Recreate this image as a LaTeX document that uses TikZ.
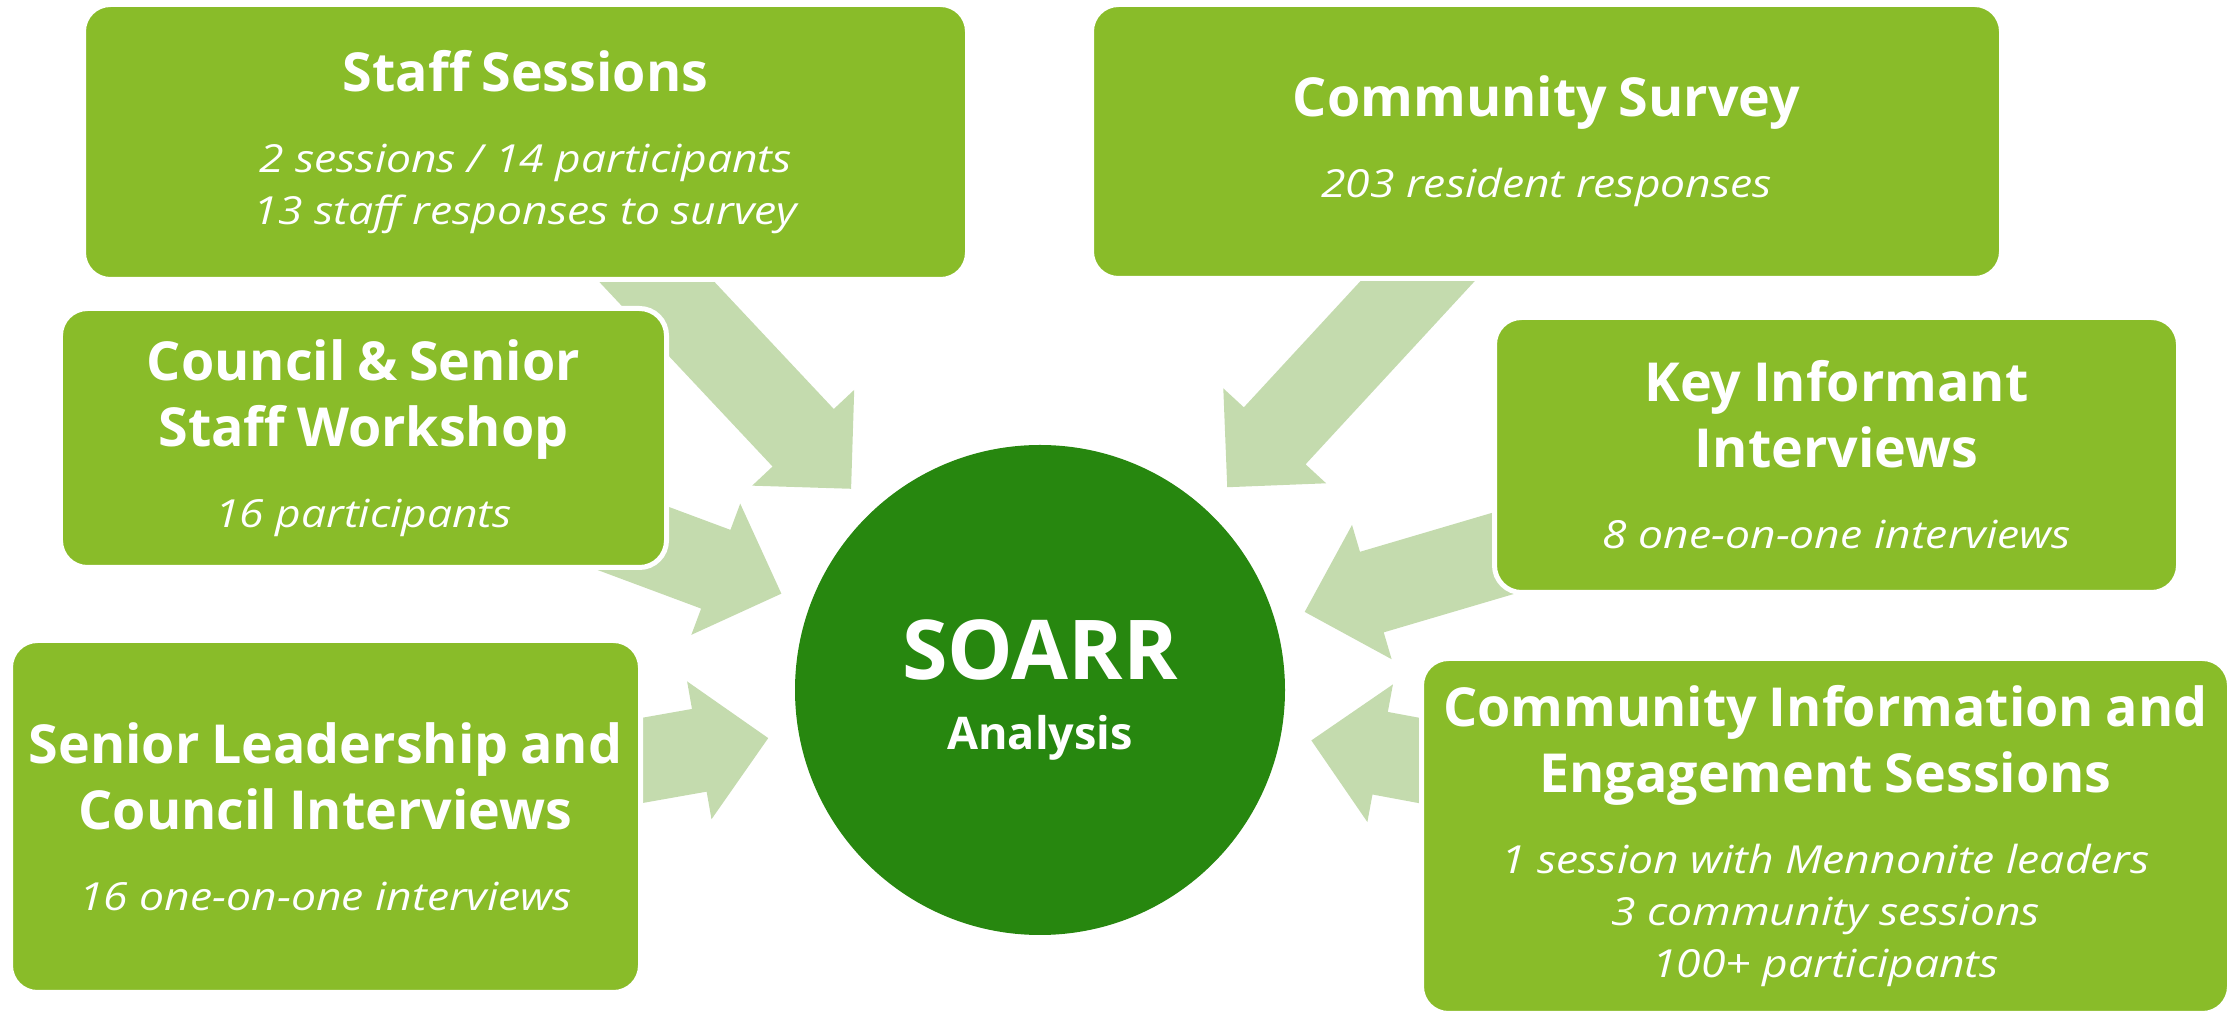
\documentclass[tikz,border=0pt]{standalone}
\usepackage{fontspec}
\setmainfont{Open Sans}
\newfontfamily\notefamily{Open Sans}[FakeStretch=1.15]
\usetikzlibrary{calc,backgrounds}

\definecolor{boxgreen}{HTML}{89BC29}
\definecolor{hubgreen}{HTML}{27870F}
\definecolor{arrowgreen}{HTML}{C4DBAE}

\setlength{\parindent}{0pt}
\newcommand{\titlefont}{\bfseries\fontsize{15.3}{18.8}\selectfont}
\newcommand{\notefont}{\notefamily\itshape\fontsize{11}{14.8}\selectfont}
\newcommand{\srctext}[2]{{\titlefont #1\par}\vspace{8.25pt}{\notefont #2\par}}
% block arrow from a box (#1) to a tip coordinate (#2)
\newcommand{\convarrow}[2]{%
  \path ($(#2)!0.7cm!(#1)$) coordinate (hb);
  \fill[arrowfill] ($(#1)!0.42cm!90:(#2)$) -- ($(hb)!0.42cm!90:(#2)$)
    -- ($(hb)!0.7cm!90:(#2)$) -- (#2) -- ($(hb)!0.7cm!-90:(#2)$)
    -- ($(hb)!0.42cm!-90:(#2)$) -- ($(#1)!0.42cm!-90:(#2)$) -- cycle;}

\begin{document}
\begin{tikzpicture}
	\tikzset{srcbox/.style={rectangle, rounded corners=0.27cm, fill=boxgreen, draw=white, line width=0.05cm, text=white, align=center, inner sep=0pt},
		hub/.style={circle, fill=hubgreen, text=white, minimum size=4.9cm, inner sep=0pt, align=center, text width=4cm},
		arrowfill/.style={fill=arrowgreen}};

	\useasboundingbox (0,0) rectangle (22.39,-10.14);

	\node[hub] (soarr) at (10.40,-6.90) {{\bfseries\fontsize{23.5}{30}\selectfont SOARR\par}{\bfseries\fontsize{12.8}{19.9}\selectfont Analysis\par}};

	\node[srcbox, minimum width=8.84cm, minimum height=2.75cm, text width=8.7cm] (staff) at (5.255,-1.42) {\srctext{Staff Sessions}{2 sessions / 14 participants\\13 staff responses to survey}};
	\node[srcbox, minimum width=9.10cm, minimum height=2.74cm, text width=9cm] (survey) at (15.465,-1.415) {\srctext{Community Survey}{203 resident responses}};
	\node[srcbox, minimum width=6.06cm, minimum height=2.59cm, text width=6cm] (council) at (3.635,-4.38) {\srctext{Council \& Senior\\Staff Workshop}{16 participants}};
	\node[srcbox, minimum width=6.84cm, minimum height=2.75cm, text width=6.7cm] (keyinf) at (18.365,-4.55) {\srctext{Key Informant\\Interviews}{8 one-on-one interviews}};
	\node[srcbox, minimum width=6.30cm, minimum height=3.52cm, text width=6.2cm] (senior) at (3.255,-8.165) {\srctext{Senior Leadership and\\Council Interviews}{16 one-on-one interviews}};
	\node[srcbox, minimum width=8.08cm, minimum height=3.55cm, text width=8cm] (commun) at (18.255,-8.36) {\srctext{Community Information and\\Engagement Sessions}{1 session with Mennonite leaders\\3 community sessions\\100+ participants}};

	\coordinate (tstaff) at ($(soarr)!2.76cm!(staff)$);
	\coordinate (tsurvey) at ($(soarr)!2.76cm!(survey)$);
	\coordinate (tcouncil) at ($(soarr)!2.76cm!(council)$);
	\coordinate (tkeyinf) at ($(soarr)!2.76cm!(keyinf)$);
	\coordinate (tsenior) at ($(soarr)!2.76cm!(senior)$);
	\coordinate (tcommun) at ($(soarr)!2.76cm!(commun)$);

	\begin{pgfonlayer}{background}
		\convarrow{staff}{tstaff}
		\convarrow{survey}{tsurvey}
		\convarrow{council}{tcouncil}
		\convarrow{keyinf}{tkeyinf}
		\convarrow{senior}{tsenior}
		\convarrow{commun}{tcommun}
	\end{pgfonlayer}

\end{tikzpicture}
\end{document}
